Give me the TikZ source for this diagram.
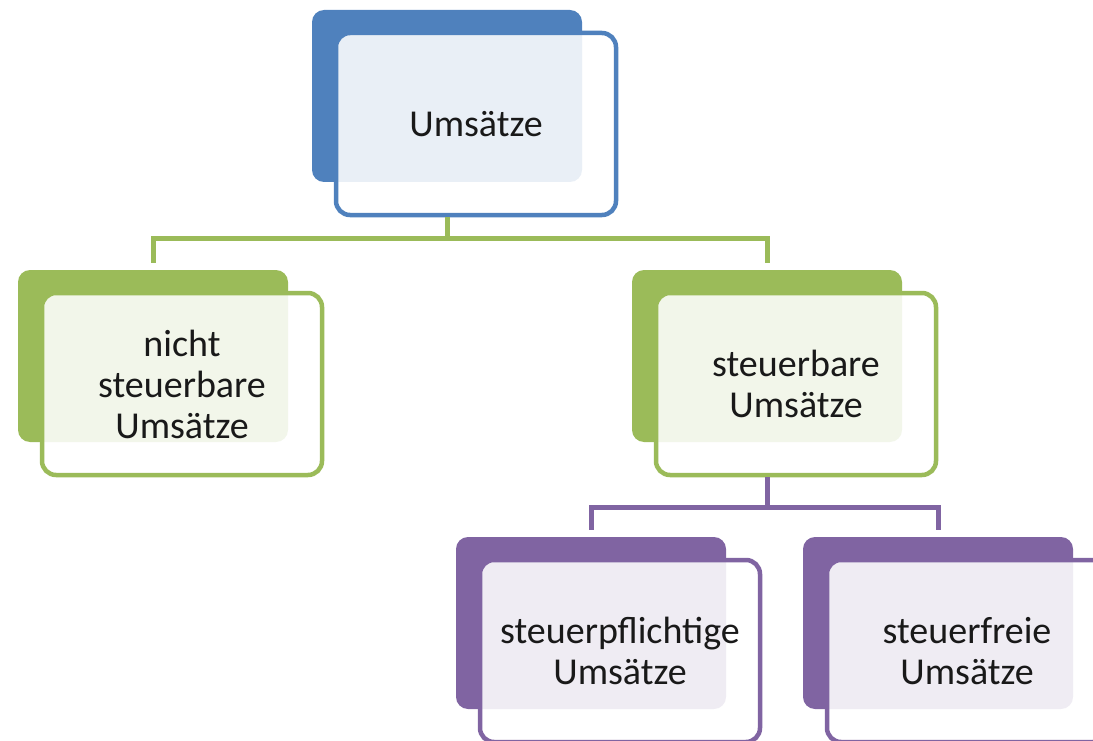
\documentclass[tikz,border=0pt]{standalone}
\usepackage{fontspec}
\setmainfont{Carlito}
\usetikzlibrary{calc}

\definecolor{boxblue}{RGB}{79,129,189}
\definecolor{boxgreen}{RGB}{155,187,89}
\definecolor{boxpurple}{RGB}{128,100,162}

\begin{document}
\begin{tikzpicture}
    [
      x=1pt, y=-1pt,
      back/.style = {rounded corners=12pt, minimum width=270pt, minimum height=172pt, fill=#1, inner sep=0pt},
      front/.style = {draw=#1, line width=4.5pt, rounded corners=14pt, fill=white, fill opacity=0.88, text opacity=1,
                      minimum width=280pt, minimum height=182pt, inner sep=0pt, align=center,
                      xshift=29pt, yshift=-28pt, text=black!90, font=\fontsize{38}{41}\selectfont},
      conn/.style = {draw=#1, line width=5pt},
    ]

    \useasboundingbox (0,0) rectangle (1093,741);

    \node[back=boxblue](umsb) at (447,96){};
    \node[front=boxblue](ums) at (umsb){Ums\"atze};

    \node[back=boxgreen](nstb) at (153,356){};
    \node[front=boxgreen](nst) at (nstb){nicht\\steuerbare\\Ums\"atze};
    \node[back=boxgreen](stb) at (767,356){};
    \node[front=boxgreen](st) at (stb){steuerbare\\Ums\"atze};

    \node[back=boxpurple](spb) at (591,623){};
    \node[front=boxpurple](sp) at (spb){steuerpflichtige\\Ums\"atze};
    \node[back=boxpurple](sfb) at (938,623){};
    \node[front=boxpurple](sf) at (sfb){steuerfreie\\Ums\"atze};

    \coordinate (gbar) at ($(umsb.center |- nstb.north)+(0,-31)$);
    \draw[conn=boxgreen] (ums.south -| umsb.center) -- (gbar);
    \draw[conn=boxgreen] ($(nstb.north)+(0,-7)$) |- (gbar) -| ($(stb.north)+(0,-7)$);

    \coordinate (pbar) at ($(stb.center |- spb.north)+(0,-29)$);
    \draw[conn=boxpurple] (st.south -| stb.center) -- (pbar);
    \draw[conn=boxpurple] ($(spb.north)+(0,-7)$) |- (pbar) -| ($(sfb.north)+(0,-7)$);
  \end{tikzpicture}
\end{document}
